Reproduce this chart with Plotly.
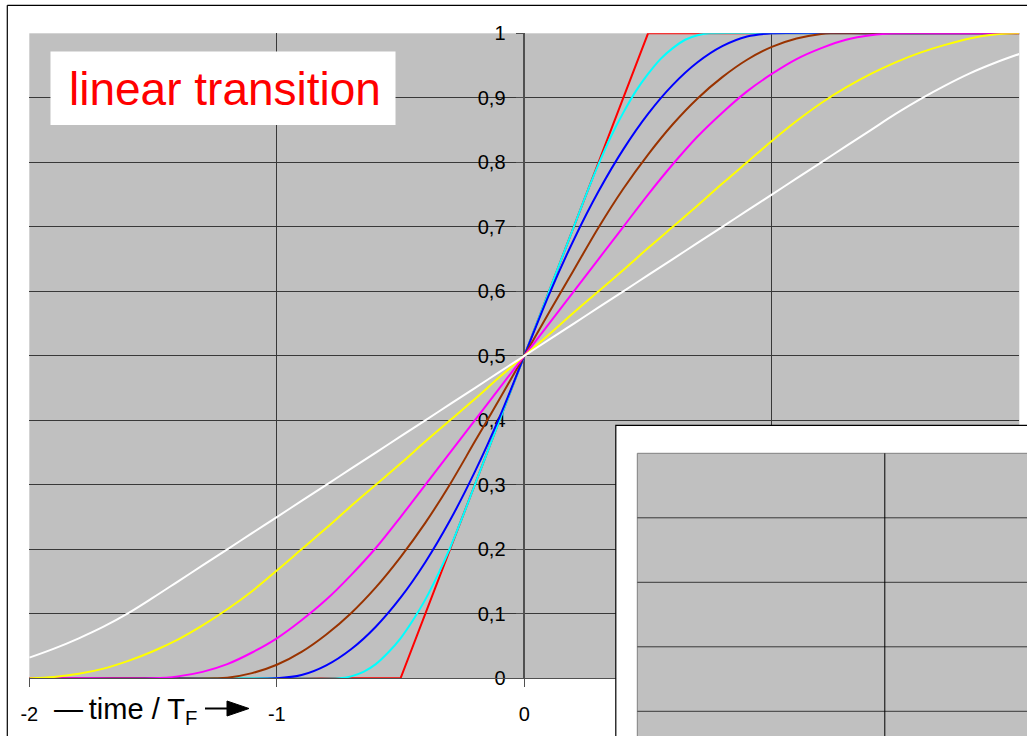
import plotly.graph_objects as go

W, H = 1027, 736

# ---- axes -------------------------------------------------------------
X_RANGE = [-2, 2]
Y_RANGE = [0, 1]
X_TICKS = [-2, -1, 0, 1, 2]
X_LABELS = ["-2", "-1", "0", "1", "2"]
Y_TICKS = [0, 0.1, 0.2, 0.3, 0.4, 0.5, 0.6, 0.7, 0.8, 0.9, 1]
Y_LABELS = ["0", "0,1", "0,2", "0,3", "0,4", "0,5", "0,6", "0,7", "0,8", "0,9", "1"]

# ---- step responses (time / T_F  ->  normalised amplitude) -------------
RED_X = [-2, -0.5, 0.5, 2]
RED_Y = [0, 0, 1, 1]

CYAN_X = [-2, -1.5, -1.0, -0.75, -0.7, -0.65, -0.6, -0.55, -0.5, -0.45, -0.4, -0.35, -0.3, -0.25,
          -0.2, -0.1, 0, 0.1, 0.2, 0.25, 0.3, 0.35, 0.4, 0.45, 0.5, 0.55, 0.6, 0.65, 0.7, 0.75,
          1.0, 1.5, 2]
CYAN_Y = [0, 0, 0, 0, 0.003, 0.01, 0.022, 0.04, 0.062, 0.09, 0.122, 0.16, 0.202, 0.25,
          0.3, 0.4, 0.5, 0.6, 0.7, 0.75, 0.797, 0.84, 0.877, 0.91, 0.937, 0.96, 0.977, 0.99, 0.997, 1,
          1, 1, 1]

BLUE_X = [-2, -1.5, -1.0, -0.9, -0.8, -0.7, -0.6, -0.5, -0.4, -0.3, -0.2, -0.1, 0,
          0.1, 0.2, 0.3, 0.4, 0.5, 0.6, 0.7, 0.8, 0.9, 1.0, 1.5, 2]
BLUE_Y = [0, 0, 0, 0.005, 0.02, 0.045, 0.08, 0.125, 0.18, 0.245, 0.32, 0.405, 0.5,
          0.595, 0.68, 0.755, 0.82, 0.875, 0.92, 0.955, 0.98, 0.995, 1.0, 1.0, 1.0]

BROWN_X = [-2, -1.6, -1.25, -1.2, -1.1, -1.0, -0.9, -0.8, -0.7, -0.6, -0.5, -0.4, -0.3, -0.2, -0.1, 0,
           0.1, 0.2, 0.3, 0.4, 0.5, 0.6, 0.7, 0.8, 0.9, 1.0, 1.1, 1.2, 1.25, 1.6, 2]
BROWN_Y = [0, 0, 0, 0.001, 0.008, 0.021, 0.041, 0.068, 0.101, 0.141, 0.188, 0.241, 0.301, 0.367, 0.433, 0.5,
           0.567, 0.633, 0.699, 0.759, 0.812, 0.859, 0.899, 0.932, 0.959, 0.979, 0.992, 0.999, 1.0, 1.0, 1.0]

MAGENTA_X = [-2, -1.75, -1.5, -1.4, -1.3, -1.2, -1.1, -1.0, -0.9, -0.8, -0.7, -0.6, -0.5, -0.4, -0.3, -0.2, -0.1, 0,
             0.1, 0.2, 0.3, 0.4, 0.5, 0.6, 0.7, 0.8, 0.9, 1.0, 1.1, 1.2, 1.3, 1.4, 1.5, 1.75, 2]
MAGENTA_Y = [0, 0, 0, 0.003, 0.01, 0.022, 0.04, 0.062, 0.09, 0.122, 0.16, 0.202, 0.25, 0.3, 0.35, 0.4, 0.45, 0.5,
             0.55, 0.6, 0.65, 0.7, 0.75, 0.797, 0.84, 0.877, 0.91, 0.937, 0.96, 0.977, 0.99, 0.997, 1.0, 1.0, 1.0]

TIME_X = [-2.0, -1.9, -1.8, -1.7, -1.6, -1.5, -1.4, -1.3, -1.2, -1.1, -1.0, -0.9, -0.8, -0.7, -0.6,
          -0.5, -0.4, -0.3, -0.2, -0.1, 0.0, 0.1, 0.2, 0.3, 0.4, 0.5, 0.6, 0.7, 0.8, 0.9, 1.0,
          1.1, 1.2, 1.3, 1.4, 1.5, 1.6, 1.7, 1.8, 1.9, 2.0]
YELLOW_Y = [0, 0.002, 0.007, 0.015, 0.027, 0.042, 0.06, 0.082, 0.107, 0.135, 0.167, 0.2, 0.233, 0.267, 0.3,
            0.333, 0.367, 0.4, 0.433, 0.467, 0.5, 0.533, 0.567, 0.6, 0.633, 0.667, 0.7, 0.733, 0.767, 0.8, 0.833,
            0.864, 0.892, 0.916, 0.937, 0.955, 0.97, 0.982, 0.992, 0.998, 1.0]
WHITE_Y = [0.032, 0.046, 0.062, 0.08, 0.101, 0.125, 0.15, 0.175, 0.2, 0.225, 0.25, 0.275, 0.3, 0.325, 0.35,
           0.375, 0.4, 0.425, 0.45, 0.475, 0.5, 0.525, 0.55, 0.575, 0.6, 0.625, 0.65, 0.675, 0.7, 0.725, 0.75,
           0.775, 0.8, 0.825, 0.85, 0.875, 0.898, 0.919, 0.938, 0.954, 0.968]

# (x, y, colour) in drawing order
SERIES = [
    (RED_X, RED_Y, "#FF0000"),
    (CYAN_X, CYAN_Y, "#00FFFF"),
    (BLUE_X, BLUE_Y, "#0000FF"),
    (BROWN_X, BROWN_Y, "#993300"),
    (MAGENTA_X, MAGENTA_Y, "#FF00FF"),
    (TIME_X, YELLOW_Y, "#FFFF00"),
    (TIME_X, WHITE_Y, "#FFFFFF"),
]

# ---- page geometry (pixels) ---------------------------------------------
PLOT_LEFT, PLOT_RIGHT = 29.3, 1019.3
PLOT_TOP, PLOT_BOTTOM = 33.3, 678.3
FRAME_LEFT, FRAME_TOP = 7.3, 5.3
INSET_FRAME_LEFT, INSET_FRAME_TOP = 615.8, 425.3
INSET_LEFT, INSET_TOP = 637.3, 453.3

GRAY = "#C0C0C0"
GRID = "#383838"
AXIS = "#505050"
FONT = "Liberation Sans, Arial, sans-serif"


def fx(p):
    return p / W


def fy(p):
    return 1 - p / H


xdom = [fx(PLOT_LEFT), fx(PLOT_RIGHT)]
ydom = [fy(PLOT_BOTTOM), fy(PLOT_TOP)]
x_unit = (PLOT_RIGHT - PLOT_LEFT) / (X_RANGE[1] - X_RANGE[0])
y_unit = (PLOT_BOTTOM - PLOT_TOP) / (Y_RANGE[1] - Y_RANGE[0])
yaxis_pos = xdom[0] + (0 - X_RANGE[0]) / (X_RANGE[1] - X_RANGE[0]) * (xdom[1] - xdom[0])

inset_xrange = [X_RANGE[0], X_RANGE[0] + (W - INSET_LEFT) / x_unit]
inset_yrange = [Y_RANGE[1] - (H - INSET_TOP) / y_unit, Y_RANGE[1]]

fig = go.Figure()
for i, (xs, ys, col) in enumerate(SERIES):
    if i == 0:
        line = dict(color=col, width=2, shape="linear")
    else:
        line = dict(color=col, width=2, shape="spline", smoothing=1.0)
    fig.add_trace(go.Scatter(x=xs, y=ys, mode="lines", line=line,
                             hoverinfo="skip", showlegend=False))

# empty trace that carries the second (inset) panel's axes
fig.add_trace(go.Scatter(x=[], y=[], xaxis="x2", yaxis="y2", showlegend=False))

fig.update_layout(
    width=W, height=H, autosize=False,
    margin=dict(l=0, r=0, t=0, b=0, pad=0, autoexpand=False),
    paper_bgcolor="white", plot_bgcolor=GRAY,
    font=dict(family=FONT, color="black"),
    showlegend=False,
    xaxis=dict(
        domain=xdom, range=X_RANGE, anchor="y", automargin=False,
        tickmode="array", tickvals=X_TICKS, ticktext=X_LABELS,
        ticks="outside", ticklen=8, tickcolor=AXIS, tickwidth=1,
        tickfont=dict(size=20, family=FONT, color="black"),
        ticklabelstandoff=10,
        showline=True, linecolor=AXIS, linewidth=1,
        showgrid=True, gridcolor=GRID, gridwidth=1,
        zeroline=False, fixedrange=True,
    ),
    yaxis=dict(
        domain=ydom, range=Y_RANGE, anchor="free", position=yaxis_pos, automargin=False,
        tickmode="array", tickvals=Y_TICKS, ticktext=Y_LABELS,
        ticks="outside", ticklen=8, tickcolor=AXIS, tickwidth=1,
        tickfont=dict(size=20, family=FONT, color="black"),
        ticklabelstandoff=6,
        showline=True, linecolor=AXIS, linewidth=1.5,
        showgrid=True, gridcolor=GRID, gridwidth=1,
        zeroline=False, fixedrange=True, layer="below traces",
    ),
    xaxis2=dict(domain=[fx(INSET_LEFT), 1], range=inset_xrange, anchor="y2",
                visible=False, fixedrange=True, automargin=False),
    yaxis2=dict(domain=[0, fy(INSET_TOP)], range=inset_yrange, anchor="x2",
                visible=False, fixedrange=True, automargin=False),
)

# arrow after the axis caption
ARROW_Y = 708.5
arrow_path = "M {} {} L {} {} L {} {} Z".format(
    fx(227), fy(ARROW_Y - 7.5), fx(249), fy(ARROW_Y), fx(227), fy(ARROW_Y + 7.5))

shapes = [
    # outer frame of the sheet
    dict(type="line", xref="paper", yref="paper", x0=fx(FRAME_LEFT), x1=1.01,
         y0=fy(FRAME_TOP), y1=fy(FRAME_TOP), line=dict(color="black", width=1.2), layer="above"),
    dict(type="line", xref="paper", yref="paper", x0=fx(FRAME_LEFT), x1=fx(FRAME_LEFT),
         y0=-0.01, y1=fy(FRAME_TOP), line=dict(color="black", width=1.2), layer="above"),
    # caption box
    dict(type="rect", xref="paper", yref="paper", x0=fx(50.5), x1=fx(395.5),
         y0=fy(125), y1=fy(51.5), fillcolor="white", line=dict(width=0), layer="above"),
    # axis caption arrow
    dict(type="line", xref="paper", yref="paper", x0=fx(205), x1=fx(229),
         y0=fy(ARROW_Y), y1=fy(ARROW_Y), line=dict(color="black", width=2), layer="above"),
    dict(type="path", xref="paper", yref="paper", path=arrow_path,
         fillcolor="black", line=dict(color="black", width=1), layer="above"),
    # second chart sheet overlapping the lower right corner
    dict(type="rect", xref="paper", yref="paper", x0=fx(INSET_FRAME_LEFT), x1=1.05,
         y0=-0.05, y1=fy(INSET_FRAME_TOP), fillcolor="white",
         line=dict(color="black", width=1.2), layer="above"),
    dict(type="rect", xref="x2 domain", yref="y2 domain", x0=0, x1=1.1, y0=-0.1, y1=1,
         fillcolor=GRAY, line=dict(color="#808080", width=1), layer="above"),
]
for v in Y_TICKS:
    if inset_yrange[0] < v < inset_yrange[1]:
        shapes.append(dict(type="line", xref="x2 domain", yref="y2", x0=0, x1=1, y0=v, y1=v,
                           line=dict(color=GRID, width=1), layer="above"))
for v in X_TICKS:
    if inset_xrange[0] < v < inset_xrange[1]:
        shapes.append(dict(type="line", xref="x2", yref="y2 domain", x0=v, x1=v, y0=0, y1=1,
                           line=dict(color="black", width=1), layer="above"))
fig.update_layout(shapes=shapes)

fig.add_annotation(text="linear transition", xref="paper", yref="paper",
                   x=fx(67), y=fy(89), xanchor="left", yanchor="middle", showarrow=False,
                   font=dict(size=46, color="#FF0000", family=FONT))
fig.add_annotation(text="—\u2009time / T<sub>F</sub>", xref="paper", yref="paper",
                   x=fx(52), y=fy(711), xanchor="left", yanchor="middle", showarrow=False,
                   font=dict(size=29, color="black", family=FONT))

fig.write_html("out.html")
